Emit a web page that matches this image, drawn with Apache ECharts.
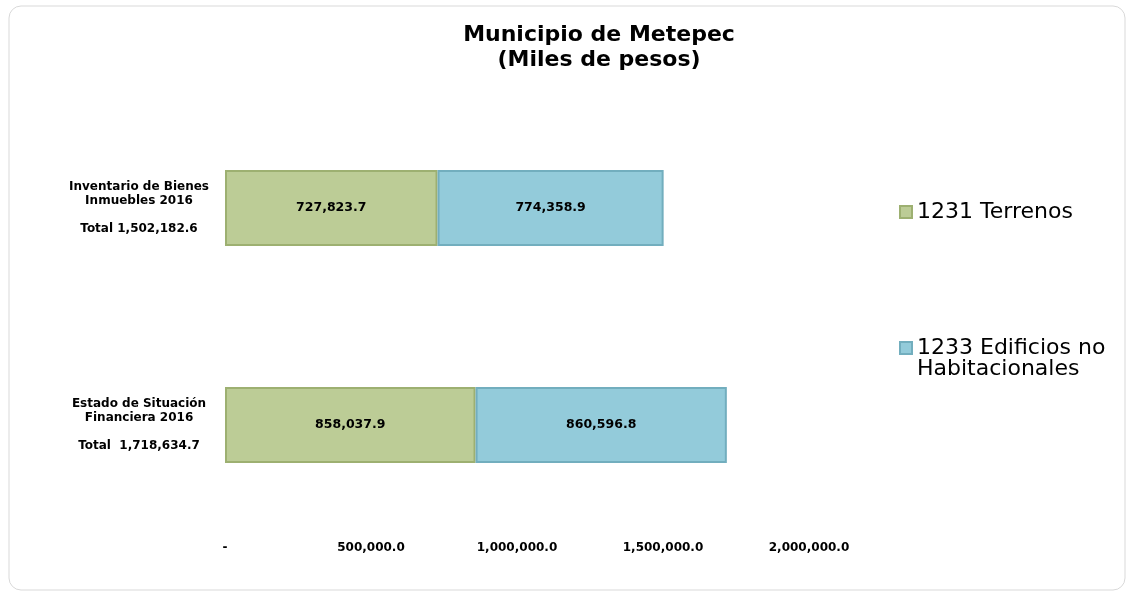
<!DOCTYPE html>
<html>
<head>
<meta charset="utf-8">
<script src="https://cdn.jsdelivr.net/npm/echarts@6/dist/echarts.min.js"></script>
<style>
html,body{margin:0;padding:0;background:#fff;}
#c{width:1133px;height:594px;}
</style>
</head>
<body>
<div id="c"></div>
<script>
const categories = [
  'Inventario de Bienes\nInmuebles 2016\n\nTotal 1,502,182.6',
  'Estado de Situación\nFinanciera 2016\n\nTotal  1,718,634.7'
];
const seriesNames = ['1231 Terrenos', '1233 Edificios no Habitacionales'];
const terrenos = [727823.7, 858037.9];
const edificios = [774358.9, 860596.8];
const xTicks = [0, 500000, 1000000, 1500000, 2000000];

const fmt = v => v === 0 ? '-' : v.toLocaleString('en-US', {minimumFractionDigits: 1, maximumFractionDigits: 1});
const FONT = '"DejaVu Sans", "Liberation Sans", Arial, sans-serif';

const chart = echarts.init(document.getElementById('c'), null, {renderer: 'canvas'});
chart.setOption({
  backgroundColor: '#ffffff',
  animation: false,
  title: {
    text: 'Municipio de Metepec\n(Miles de pesos)',
    left: 594, top: 18, textAlign: 'center',
    textStyle: {fontFamily: FONT, fontSize: 22, fontWeight: 'bold', color: '#000', lineHeight: 25}
  },
  graphic: [{
    type: 'rect', z: -1,
    shape: {x: 9, y: 6, width: 1116, height: 584, r: 12},
    style: {fill: 'none', stroke: '#d9d9d9', lineWidth: 1}
  }, {
    type: 'text', left: 917, top: 358,
    style: {text: 'Habitacionales', fontFamily: FONT, fontSize: 22, fill: '#000'}
  }],
  legend: [{
    orient: 'vertical', left: 894, top: 196,
    itemWidth: 12, itemHeight: 12, icon: 'rect', itemGap: 8,
    data: [seriesNames[0]],
    textStyle: {fontFamily: FONT, fontSize: 22, color: '#000'}
  }, {
    orient: 'vertical', left: 894, top: 332,
    itemWidth: 12, itemHeight: 12, icon: 'rect', itemGap: 8,
    data: [seriesNames[1]],
    formatter: () => '1233 Edificios no',
    textStyle: {fontFamily: FONT, fontSize: 22, color: '#000'}
  }],
  grid: {left: 225, right: 324, top: 99.5, bottom: 60.5, containLabel: false},
  xAxis: {
    type: 'value', min: 0, max: 2000000, interval: 500000,
    axisLine: {show: false}, axisTick: {show: false}, splitLine: {show: false},
    axisLabel: {
      formatter: v => xTicks.includes(v) ? fmt(v) : '',
      fontFamily: FONT, fontSize: 12, fontWeight: 'bold', color: '#000', margin: 8
    }
  },
  yAxis: {
    type: 'category', data: categories, inverse: true,
    axisLine: {show: false}, axisTick: {show: false},
    axisLabel: {
      align: 'center', margin: 86, lineHeight: 14,
      fontFamily: FONT, fontSize: 12, fontWeight: 'bold', color: '#000'
    }
  },
  series: [
    {
      name: seriesNames[0], type: 'bar', stack: 'a', data: terrenos, barWidth: 76,
      itemStyle: {color: '#bccc96', borderColor: '#9db071', borderWidth: 2},
      label: {show: true, position: 'inside', formatter: p => fmt(p.value),
        fontFamily: FONT, fontSize: 12.5, fontWeight: 'bold', color: '#000'}
    },
    {
      name: seriesNames[1], type: 'bar', stack: 'a', data: edificios, barWidth: 76,
      itemStyle: {color: '#93cbda', borderColor: '#72aebe', borderWidth: 2},
      label: {show: true, position: 'inside', formatter: p => fmt(p.value),
        fontFamily: FONT, fontSize: 12.5, fontWeight: 'bold', color: '#000'}
    }
  ]
});
</script>
</body>
</html>
